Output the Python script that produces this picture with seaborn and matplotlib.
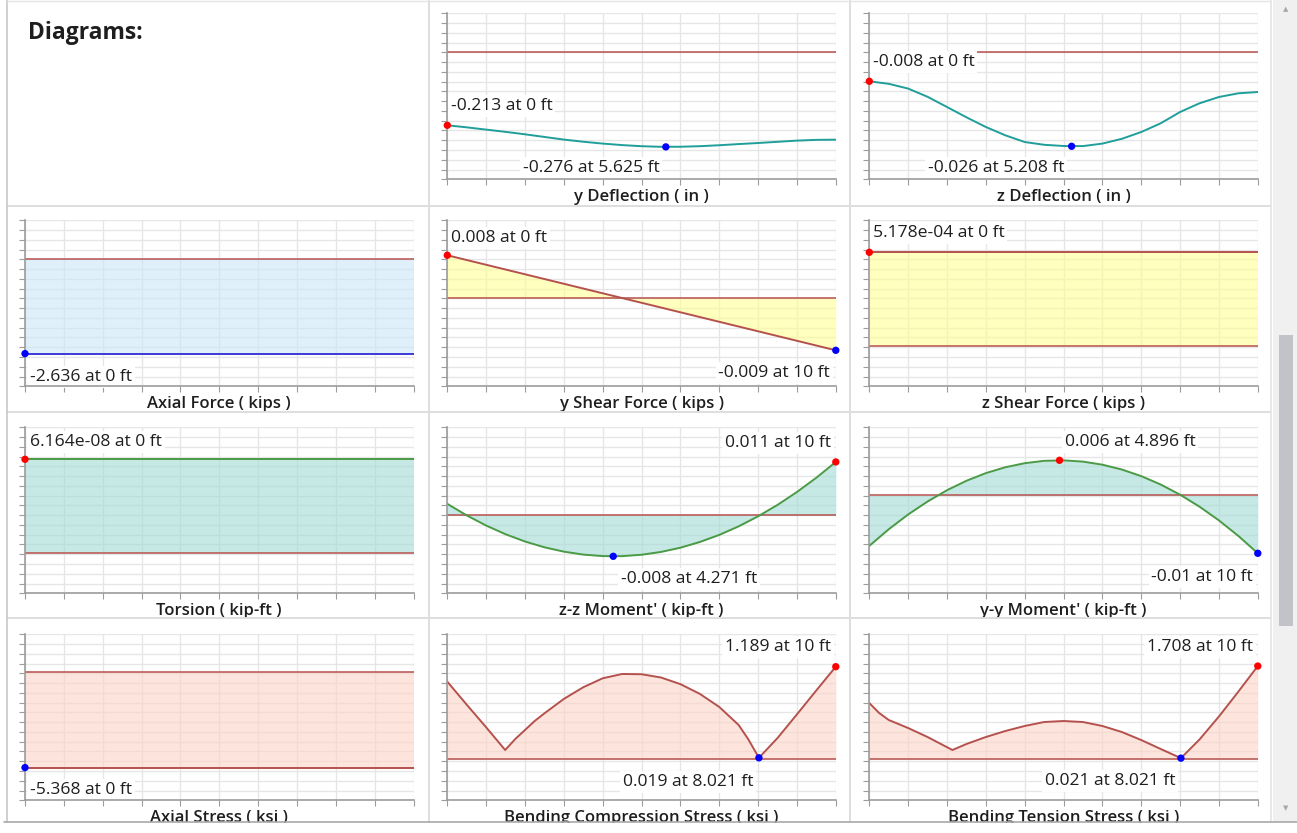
import numpy as np
import matplotlib
matplotlib.use("Agg")
import matplotlib.pyplot as plt
from matplotlib.patches import Rectangle
from matplotlib.lines import Line2D
import seaborn as sns

# ---- values (member length 10 ft) ----
span_ft = [0, 0.5, 1, 1.5, 2, 2.5, 3, 3.5, 4, 4.5, 5,
           5.5, 6, 6.5, 7, 7.5, 8, 8.5, 9, 9.5, 10]
ends_ft = [0, 10]

y_deflection_in = [-0.2130, -0.2190, -0.2256, -0.2322, -0.2393, -0.2470, -0.2547,
                   -0.2610, -0.2664, -0.2708, -0.2740, -0.2758, -0.2756, -0.2740,
                   -0.2712, -0.2678, -0.2647, -0.2612, -0.2577, -0.2555, -0.2550]
z_deflection_in = [-0.00805, -0.00874, -0.01005, -0.01231, -0.01511, -0.01794, -0.02060,
                   -0.02288, -0.02473, -0.02549, -0.02582, -0.02585, -0.02516, -0.02385,
                   -0.02198, -0.01959, -0.01648, -0.01409, -0.01236, -0.01135, -0.01099]
axial_force_kips = [-2.636, -2.636]
y_shear_kips = [0.00763, -0.00934]
z_shear_kips = [5.178e-04, 5.178e-04]
torsion_kipft = [6.164e-08, 6.164e-08]
zz_moment_kipft = [0.00223, -0.00008, -0.00211, -0.00385, -0.00530, -0.00646, -0.00733,
                   -0.00792, -0.00822, -0.00823, -0.00795, -0.00739, -0.00654, -0.00540,
                   -0.00398, -0.00227, -0.00026, 0.00202, 0.00460, 0.00746, 0.01061]
yy_moment_kipft = [-0.00857, -0.00576, -0.00325, -0.00105, 0.00086, 0.00246, 0.00376,
                   0.00475, 0.00544, 0.00584, 0.00592, 0.00571, 0.00519, 0.00437,
                   0.00325, 0.00183, 0.00010, -0.00193, -0.00426, -0.00689, -0.00983]
axial_stress_ksi = [-5.368, -5.368]
bend_comp_ft = [0, 0.5, 1, 1.49, 1.75, 2, 2.25, 2.5, 3, 3.5, 4, 4.5, 5,
                5.5, 6, 6.5, 7, 7.5, 7.75, 8.021, 8.5, 9, 9.5, 10]
bend_comp_ksi = [0.997, 0.701, 0.411, 0.119, 0.261, 0.376, 0.492, 0.590, 0.775, 0.925, 1.040,
                 1.095, 1.092, 1.050, 0.965, 0.840, 0.672, 0.440, 0.255, 0.019,
                 0.273, 0.577, 0.885, 1.189]
bend_tens_ft = [0, 0.25, 0.5, 1, 1.5, 2.14, 2.5, 3, 3.5, 4, 4.5, 5,
                5.5, 6, 6.5, 7, 7.5, 8.021, 8.5, 9, 9.5, 10]
bend_tens_ksi = [1.031, 0.850, 0.720, 0.573, 0.408, 0.170, 0.280, 0.408, 0.518, 0.610, 0.683,
                 0.701, 0.683, 0.610, 0.500, 0.353, 0.189, 0.021, 0.363, 0.784, 1.240, 1.708]

# canvas geometry (pixels)
W, H = 1297, 833
PW, PH = 388.5, 166
COL_X = [25, 447.3, 869.3]
ROW_Y = [13.3, 220.3, 427.3, 634.3]

RED = "#b5514d"
TEAL = "#1f9e9a"
GREEN = "#4a9a46"
BLUE = "#3b3bd6"
GRID = "#e6e6e6"
AXIS = "#9c9c9c"
TXT = "#1e1e1e"

sns.set_style("white")
plt.rcParams["font.family"] = ["Open Sans", "DejaVu Sans"]

fig = plt.figure(figsize=(W / 100, H / 100), dpi=100)


def fx(px):
    return px / W


def fy(py):
    return 1 - py / H


def make_axes(col, row, ylim, title):
    left, top = COL_X[col], ROW_Y[row]
    ax = fig.add_axes([fx(left), fy(top + PH), PW / W, PH / H])
    ax.set_xlim(0, 10)
    ax.set_ylim(*ylim)
    ax.set_xticks(np.linspace(0, 10, 11))
    ax.set_yticks(np.linspace(ylim[0], ylim[1], 18))
    ax.set_axisbelow(True)
    ax.grid(True, color=GRID, lw=1.0)
    ax.tick_params(labelleft=False, labelbottom=False, left=True, bottom=True,
                   length=4, width=0.8, color=AXIS)
    for side in ("top", "right"):
        ax.spines[side].set_visible(False)
    for side in ("left", "bottom"):
        ax.spines[side].set_color(AXIS)
        ax.spines[side].set_linewidth(1.2)
    ax.axhline(0, color=RED, lw=1.1, zorder=2)
    fig.text(fx(left + PW / 2), fy(top + PH + 17.5), title, ha="center", va="center",
             fontsize=12, fontweight=600, color=TXT)
    return ax


def curve(ax, xs, ys, color, fill=None):
    if fill is not None:
        ax.fill_between(xs, ys, 0, color=fill, alpha=0.6, lw=0, zorder=1)
    sns.lineplot(x=xs, y=ys, ax=ax, color=color, lw=1.4, estimator=None, sort=False,
                 zorder=2, solid_joinstyle="round")


def dot(ax, x, y, color):
    sns.scatterplot(x=[x], y=[y], ax=ax, color=color, s=28, edgecolor="none",
                    clip_on=False, zorder=4, legend=False)


def note(ax, px, py, text, ha="left"):
    ax.text(fx(px), fy(py), text, transform=fig.transFigure, ha=ha, va="center",
            fontsize=12.6, color=TXT, zorder=2.2,
            bbox=dict(boxstyle="square,pad=0.15", fc="white", ec="none"))


# ---- row 1 ----
fig.text(fx(28), fy(33), "Diagrams:", fontsize=16.5, fontweight="bold", color=TXT,
         ha="left", va="center")

ax = make_axes(1, 0, (-0.3706, 0.1138), "y Deflection ( in )")
curve(ax, span_ft, y_deflection_in, TEAL)
dot(ax, 0, -0.213, "red")
dot(ax, 5.625, -0.276, "blue")
note(ax, 451, 106, "-0.213 at 0 ft")
note(ax, 591, 168, "-0.276 at 5.625 ft", ha="center")

ax = make_axes(2, 0, (-0.03497, 0.01063), "z Deflection ( in )")
curve(ax, span_ft, z_deflection_in, TEAL)
dot(ax, 0, -0.00805, "red")
dot(ax, 5.208, -0.0259, "blue")
note(ax, 873, 62, "-0.008 at 0 ft")
note(ax, 996, 168, "-0.026 at 5.208 ft", ha="center")

# ---- row 2 ----
ax = make_axes(0, 1, (-3.5433, 1.0627), "Axial Force ( kips )")
curve(ax, ends_ft, axial_force_kips, BLUE, fill="#cbe6f8")
dot(ax, 0, axial_force_kips[0], "blue")
note(ax, 30, 377, "-2.636 at 0 ft")

ax = make_axes(1, 1, (-0.015768, 0.013875), "y Shear Force ( kips )")
curve(ax, ends_ft, y_shear_kips, RED, fill="#ffff94")
dot(ax, 0, y_shear_kips[0], "red")
dot(ax, 10, y_shear_kips[1], "blue")
note(ax, 451, 238, "0.008 at 0 ft")
note(ax, 830, 373, "-0.009 at 10 ft", ha="right")

ax = make_axes(2, 1, (-2.227e-04, 6.946e-04), "z Shear Force ( kips )")
curve(ax, ends_ft, z_shear_kips, RED, fill="#ffff94")
dot(ax, 0, z_shear_kips[0], "red")
note(ax, 873, 233, "5.178e-04 at 0 ft")

# ---- row 3 ----
ax = make_axes(0, 2, (-2.651e-08, 8.27e-08), "Torsion ( kip-ft )")
curve(ax, ends_ft, torsion_kipft, GREEN, fill="#a3dbd5")
dot(ax, 0, torsion_kipft[0], "red")
note(ax, 30, 442, "6.164e-08 at 0 ft")

ax = make_axes(1, 2, (-0.01566, 0.01754), "z-z Moment' ( kip-ft )")
curve(ax, span_ft, zz_moment_kipft, GREEN, fill="#a3dbd5")
dot(ax, 10, zz_moment_kipft[-1], "red")
dot(ax, 4.271, -0.00826, "blue")
note(ax, 831, 443, "0.011 at 10 ft", ha="right")
note(ax, 689, 579, "-0.008 at 4.271 ft", ha="center")

ax = make_axes(2, 2, (-0.01661, 0.011525), "y-y Moment' ( kip-ft )")
curve(ax, span_ft, yy_moment_kipft, GREEN, fill="#a3dbd5")
dot(ax, 4.896, 0.00593, "red")
dot(ax, 10, yy_moment_kipft[-1], "blue")
note(ax, 1130, 442, "0.006 at 4.896 ft", ha="center")
note(ax, 1253, 577, "-0.01 at 10 ft", ha="right")

# ---- row 4 ----
ax = make_axes(0, 3, (-7.2113, 2.1408), "Axial Stress ( ksi )")
curve(ax, ends_ft, axial_stress_ksi, RED, fill="#fcd4c8")
dot(ax, 0, axial_stress_ksi[0], "blue")
note(ax, 30, 790, "-5.368 at 0 ft")

ax = make_axes(1, 3, (-0.5263, 1.6046), "Bending Compression Stress ( ksi )")
curve(ax, bend_comp_ft, bend_comp_ksi, RED, fill="#fcd4c8")
dot(ax, 10, bend_comp_ksi[-1], "red")
dot(ax, 8.021, 0.019, "blue")
note(ax, 831, 647, "1.189 at 10 ft", ha="right")
note(ax, 688, 782, "0.019 at 8.021 ft", ha="center")

ax = make_axes(2, 3, (-0.7509, 2.2894), "Bending Tension Stress ( ksi )")
curve(ax, bend_tens_ft, bend_tens_ksi, RED, fill="#fcd4c8")
dot(ax, 10, bend_tens_ksi[-1], "red")
dot(ax, 8.021, 0.021, "blue")
note(ax, 1253, 647, "1.708 at 10 ft", ha="right")
note(ax, 1110, 781, "0.021 at 8.021 ft", ha="center")


# ---- cell frame, clipped bottom and scrollbar ----
def seg(x0, y0, x1, y1, color, lw, z=5):
    fig.add_artist(Line2D([fx(x0), fx(x1)], [fy(y0), fy(y1)], color=color, lw=lw, zorder=z))


for yy in (206, 412, 618):
    seg(7, yy, 1270, yy, "#dedede", 1.4)
for xx in (428.5, 850):
    seg(xx, 0, xx, 822, "#dedede", 1.4)
seg(1270.5, 0, 1270.5, 822, "#e4e4e4", 1.2)
seg(6.5, 0, 6.5, 822, "#c8c8c8", 1.2)
seg(7, 0.5, 1270, 0.5, "#e4e4e4", 1.0)

fig.add_artist(Rectangle((0, 0), 1, fy(822.5), transform=fig.transFigure,
                         fc="white", ec="none", zorder=10))
fig.add_artist(Rectangle((fx(1273), fy(822)), fx(24), 822 / H, transform=fig.transFigure,
                         fc="#f0f0f0", ec="none", zorder=9))
fig.add_artist(Rectangle((fx(1279), fy(626)), fx(14), 291 / H, transform=fig.transFigure,
                         fc="#c2c3c8", ec="none", zorder=9.5))
fig.text(fx(1286), fy(9), "\u25b2", fontsize=5, color="#a8a8a8", ha="center", va="center",
         family="DejaVu Sans", zorder=11)
fig.text(fx(1286), fy(808), "\u25bc", fontsize=5, color="#a8a8a8", ha="center", va="center",
         family="DejaVu Sans", zorder=11)
seg(4, 822, 1297, 822, "#a9a9a9", 1.2, z=11)

fig.savefig("out.png", dpi=100)
plt.close(fig)
